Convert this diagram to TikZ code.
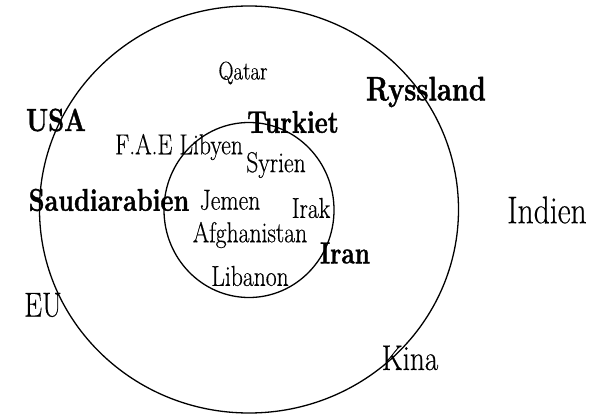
\documentclass[tikz,border=0pt]{standalone}
\usepackage{fontspec}
\usepackage{tikz}
\usetikzlibrary{shapes.geometric}
\newfontfamily\landfont[FakeStretch=0.82,FakeBold=0.4]{Latin Modern Roman}
\newfontfamily\majorfont[FakeStretch=0.8,FakeBold=1.2]{Latin Modern Roman}
\newcommand{\fsz}[1]{\fontsize{#1}{#1}\selectfont}

\begin{document}
\begin{tikzpicture}[
    x=1pt, y=-1pt,
    ring/.style={draw=black, ellipse, line width=1.3pt, inner sep=0pt},
    land/.style={inner sep=0pt, font=\landfont\fsz{28.8}},
    major/.style={inner sep=0pt, font=\majorfont\bfseries\fsz{31.5}},
    far/.style={inner sep=0pt, font=\landfont\fsz{35.5}}
]
    \useasboundingbox (0,0) rectangle (601,414);

    % Rings
    \node[ring, minimum width=419, minimum height=407] (outer) at (249,209.5) {};
    \node[ring, minimum width=170, minimum height=175] (inner) at (249,210) {};

    % Outer ring
    \node[land, font=\landfont\fsz{25.5}] (qatar) at (243,73) {Qatar};
    \node[major, font=\majorfont\bfseries\fsz{34}] (ryss) at (426,92) {Ryssland};
    \node[major, font=\majorfont\bfseries\fsz{32}] (usa) at (56,120) {USA};
    \node[major] (turk) at (293,122) {Turkiet};
    \node[land] (fae) at (179,147) {F.A.E Libyen};
    \node[major] (saudi) at (109,200) {Saudiarabien};
    \node[major, font=\majorfont\bfseries\fsz{30.5}] (iran) at (345,253) {Iran};

    % Inner ring
    \node[land] (syr) at (276,165) {Syrien};
    \node[land] (jem) at (230,200) {Jemen};
    \node[land] (irak) at (311,208) {Irak};
    \node[land] (afg) at (250,235) {Afghanistan};
    \node[land] (lib) at (250,276) {Libanon};

    % Outside
    \node[far, font=\landfont\fsz{38.5}] (indien) at (547,210) {Indien};
    \node[far, font=\landfont\fsz{34.5}] (eu) at (43,305) {EU};
    \node[far] (kina) at (410,358) {Kina};
\end{tikzpicture}
\end{document}
